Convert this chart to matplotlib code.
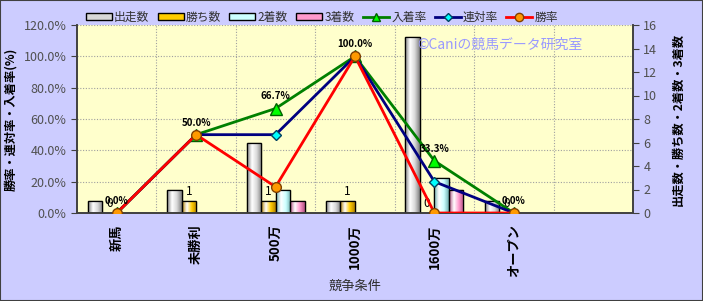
import numpy as np
import matplotlib
matplotlib.use("Agg")
import matplotlib.pyplot as plt
from matplotlib.patches import Rectangle
from matplotlib.lines import Line2D
from matplotlib.colors import LinearSegmentedColormap

plt.rcParams['font.family'] = ['Noto Sans CJK JP', 'DejaVu Sans']

categories = ['新馬', '未勝利', '500万', '1000万', '1600万', 'オープン', '']
starts = [1, 2, 6, 1, 15, 1]
wins = [0, 1, 1, 1, 0, 0]
seconds = [0, 0, 2, 0, 3, 0]
thirds = [0, 0, 1, 0, 2, 0]
win_rate = [0.0, 50.0, 16.7, 100.0, 0.0, 0.0]
rentai_rate = [0.0, 50.0, 50.0, 100.0, 20.0, 0.0]
place_rate = [0.0, 50.0, 66.7, 100.0, 33.3, 0.0]

bar_series = [('出走数', starts, '#d8d8d8', '#7f7f7f'),
              ('勝ち数', wins, '#ffcc00', '#b08000'),
              ('2着数', seconds, '#ccffff', '#70b0b0'),
              ('3着数', thirds, '#ff99cc', '#b05080')]

W, H = 703, 301
fig = plt.figure(figsize=(W / 100, H / 100), dpi=100)
fig.patch.set_facecolor('#ccccff')
fig.add_artist(Rectangle((0, 0), 1, 1, transform=fig.transFigure, fill=False,
                         edgecolor='#404040', linewidth=1.5))

x0, x1, y0, y1 = 77, 633, 213, 25
axb = fig.add_axes([x0 / W, (H - y0) / H, (x1 - x0) / W, (y0 - y1) / H])
axb.set_facecolor('#ffffcc')
axl = axb.twinx()

n = len(categories)
x = np.arange(len(starts))
bw = 0.183

# grid
for k in range(1, 7):
    axb.axhline(k * 16 / 6, color='#a0a0a0', linestyle=(0, (1, 1.5)), linewidth=0.8, zorder=0)
for b in np.arange(0.5, n - 0.5, 1):
    axb.axvline(b, color='#a0a0a0', linestyle=(0, (1, 1.5)), linewidth=0.8, zorder=0)

def grad_cmap(c, d):
    return LinearSegmentedColormap.from_list('g', [d, 'white', c, d], N=64)

for i, (name, vals, c, d) in enumerate(bar_series):
    offs = (i - 1.5) * bw
    bars = axb.bar(x + offs, vals, width=bw, color=c, edgecolor='black', linewidth=0.9, zorder=2)
    cm = grad_cmap(c, d)
    for r in bars:
        if r.get_height() <= 0:
            continue
        gx = np.linspace(0, 1, 64).reshape(1, -1)
        im = axb.imshow(gx, cmap=cm, extent=[r.get_x(), r.get_x() + r.get_width(), 0, r.get_height()],
                        aspect='auto', zorder=2.5, interpolation='bilinear')
        im.set_clip_path(r)
        axb.add_patch(Rectangle((r.get_x(), 0), r.get_width(), r.get_height(), fill=False,
                                edgecolor='black', linewidth=0.9, zorder=3))

# win count labels
for i, v in enumerate(wins):
    axb.text(x[i] - 0.5 * bw, v + 0.25, str(v), ha='center', va='bottom', fontsize=8.5, zorder=5)

axb.set_xlim(-0.5, n - 0.5)
axb.set_ylim(0, 16)
axb.set_yticks(np.arange(0, 17, 2))
axb.yaxis.tick_right()
axb.yaxis.set_label_position('right')
axb.set_xticks(np.arange(n))
axb.set_xticklabels(categories, rotation=90, fontsize=9.5, fontweight='bold')
axb.tick_params(axis='x', which='major', length=0, pad=8)
axb.tick_params(axis='y', labelsize=9, length=4, colors='#404040', labelcolor='#505050')
axb.set_ylabel('出走数・勝ち数・2着数・3着数', fontsize=8.8, fontweight='bold', rotation=90, labelpad=10)
axb.set_xlabel('競争条件', fontsize=9.5, labelpad=2, color='#303030')

axl.plot(x, place_rate, color='#008000', linewidth=2, marker='^', markersize=8,
         markerfacecolor='#00ff00', markeredgecolor='#006000', zorder=4)
axl.plot(x, rentai_rate, color='#000080', linewidth=2, marker='D', markersize=5.5,
         markerfacecolor='#00ffff', markeredgecolor='#004060', zorder=5)
axl.plot(x, win_rate, color='#ff0000', linewidth=2, marker='o', markersize=7,
         markerfacecolor='#ff9900', markeredgecolor='#804000', zorder=6)
for i, v in enumerate(place_rate):
    axl.text(x[i], v + 4.5, f'{v:.1f}%', ha='center', va='bottom', fontsize=7, fontweight='bold', zorder=7)

axl.set_ylim(0, 120)
axl.set_yticks(np.arange(0, 121, 20))
axl.set_yticklabels([f'{v:.1f}%' for v in np.arange(0, 121, 20)])
axl.yaxis.tick_left()
axl.yaxis.set_label_position('left')
axl.tick_params(axis='y', labelsize=9, length=4, colors='#404040', labelcolor='#505050')
axl.set_ylabel('勝率・連対率・入着率(%)', fontsize=8.8, fontweight='bold', labelpad=5)

for a in (axb, axl):
    a.spines['top'].set_visible(False)
    for s in ('left', 'right', 'bottom'):
        a.spines[s].set_color('#404040')
        a.spines[s].set_linewidth(1.2)

fig.text(417 / W, 1 - 45 / H, '©Caniの競馬データ研究室', fontsize=10, color='#9999ff',
         ha='left', va='center')

handles = []
for name, vals, c, d in bar_series:
    handles.append(Rectangle((0, 0), 1, 1, facecolor=c, edgecolor='black', linewidth=1))
handles.append(Line2D([], [], color='#008000', lw=2, marker='^', markersize=6,
                      markerfacecolor='#00ff00', markeredgecolor='#006000'))
handles.append(Line2D([], [], color='#000080', lw=2, marker='D', markersize=4,
                      markerfacecolor='#00ffff', markeredgecolor='#004060'))
handles.append(Line2D([], [], color='#ff0000', lw=2, marker='o', markersize=6,
                      markerfacecolor='#ff9900', markeredgecolor='#804000'))
labels = [b[0] for b in bar_series] + ['入着率', '連対率', '勝率']
leg = fig.legend(handles, labels, ncol=7, loc='center', bbox_to_anchor=(322 / W, 1 - 17 / H),
                 frameon=False, fontsize=8.5, handlelength=2.2, handleheight=0.55,
                 handletextpad=0.2, columnspacing=0.7)
for t in leg.get_texts():
    t.set_color('#303030')

fig.savefig('out.png', dpi=100, facecolor=fig.get_facecolor())
